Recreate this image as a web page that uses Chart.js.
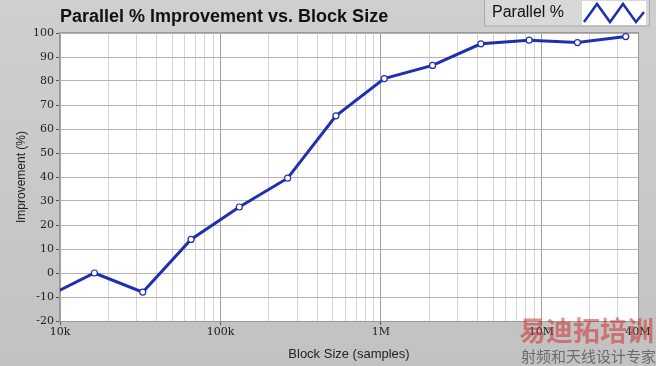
<!DOCTYPE html>
<html>
<head>
<meta charset="utf-8">
<script src="https://cdn.jsdelivr.net/npm/chart.js@4"></script>
<style>
  html, body { margin: 0; padding: 0; background: #c4c4c4; }
  canvas { display: block; }
</style>
</head>
<body>
<canvas id="perfChart" width="656" height="366"></canvas>
<script>
// block sizes are powers of two, 8k .. 32M samples
var blockSizes = [8192, 16384, 32768, 65536, 131072, 262144, 524288, 1048576, 2097152, 4194304, 8388608, 16777216, 33554432];
var improvement = [-10, 0, -8, 14, 27.5, 39.5, 65.5, 81, 86.5, 95.5, 97, 96, 98.5];
var seriesName = 'Parallel %';

var xTickValues = [1e4, 2e4, 3e4, 4e4, 5e4, 6e4, 7e4, 8e4, 9e4,
                   1e5, 2e5, 3e5, 4e5, 5e5, 6e5, 7e5, 8e5, 9e5,
                   1e6, 2e6, 3e6, 4e6, 5e6, 6e6, 7e6, 8e6, 9e6,
                   1e7, 2e7, 3e7, 4e7];
var xTickLabels = { 1e4: '10k', 1e5: '100k', 1e6: '1M', 1e7: '10M', 4e7: '40M' };

var chartTitle = 'Parallel % Improvement vs. Block Size';

function isMajor(v) {
    return xTickLabels[v] !== undefined;
}

// draws the panel background, title, legend box and watermark
var decorPlugin = {
    id: 'decor',
    beforeDraw: function(chart) {
        var ctx = chart.ctx;
        var a = chart.chartArea;
        ctx.save();
        var g = ctx.createLinearGradient(0, 0, 0, chart.height);
        g.addColorStop(0, '#cfcfcf');
        g.addColorStop(1, '#c2c2c2');
        ctx.fillStyle = g;
        ctx.fillRect(0, 0, chart.width, chart.height);
        ctx.fillStyle = '#ffffff';
        ctx.fillRect(a.left, a.top, a.right - a.left, a.bottom - a.top);
        ctx.restore();
    },
    afterDraw: function(chart) {
        var ctx = chart.ctx;
        var a = chart.chartArea;
        ctx.save();
        // plot frame
        ctx.strokeStyle = '#9a9a9a';
        ctx.lineWidth = 1;
        ctx.strokeRect(a.left - 0.5, a.top - 0.5, a.right - a.left + 1, a.bottom - a.top + 1);

        // title
        ctx.fillStyle = '#111111';
        ctx.font = 'bold 18px "Liberation Sans", Arial, sans-serif';
        ctx.textBaseline = 'middle';
        ctx.fillText(chartTitle, 60, 17);

        // legend box
        ctx.fillStyle = '#d8d8d8';
        ctx.fillRect(484, 0, 166, 26);
        ctx.strokeStyle = '#a8a8a8';
        ctx.strokeRect(484.5, -1, 165, 27);
        ctx.fillStyle = '#111111';
        ctx.font = '16px "Liberation Sans", Arial, sans-serif';
        ctx.fillText(chart.data.datasets[0].label, 492, 13);
        ctx.fillStyle = '#ffffff';
        ctx.fillRect(582, 1, 64, 24);
        ctx.strokeStyle = '#1f2fb0';
        ctx.lineWidth = 2.5;
        ctx.beginPath();
        ctx.moveTo(584, 22);
        ctx.lineTo(597, 4);
        ctx.lineTo(610, 22);
        ctx.lineTo(623, 4);
        ctx.lineTo(636, 22);
        ctx.lineTo(644, 12);
        ctx.stroke();

        // watermark
        ctx.globalAlpha = 0.55;
        ctx.fillStyle = '#d23030';
        ctx.font = 'bold 27px "Noto Sans CJK SC", sans-serif';
        ctx.textAlign = 'right';
        ctx.fillText('易迪拓培训', 654, 331);
        ctx.globalAlpha = 0.8;
        ctx.fillStyle = '#555555';
        ctx.font = '15px "Noto Sans CJK SC", sans-serif';
        ctx.fillText('射频和天线设计专家', 656, 356);
        ctx.restore();
    }
};

var ctx = document.getElementById('perfChart').getContext('2d');
new Chart(ctx, {
    type: 'line',
    data: {
        labels: blockSizes,
        datasets: [{
            label: seriesName,
            data: blockSizes.map(function(b, i) { return { x: b, y: improvement[i] }; }),
            borderColor: '#1f2fb0',
            borderWidth: 3,
            pointRadius: 3,
            pointBorderWidth: 1.2,
            pointBackgroundColor: '#ffffff',
            pointBorderColor: '#1f2fb0',
            tension: 0,
            clip: 0
        }]
    },
    options: {
        responsive: false,
        animation: false,
        layout: { padding: { top: 33, right: 18, left: 0, bottom: 0 } },
        plugins: {
            legend: { display: false },
            title: { display: false },
            tooltip: { enabled: false }
        },
        scales: {
            x: {
                type: 'logarithmic',
                min: 1e4,
                max: 4e7,
                afterBuildTicks: function(scale) {
                    scale.ticks = xTickValues.map(function(v) { return { value: v, major: isMajor(v) }; });
                },
                afterFit: function(scale) { scale.height = 45; },
                ticks: {
                    autoSkip: false,
                    maxRotation: 0,
                    color: '#222222',
                    font: { family: '"DejaVu Serif", serif', size: 11 },
                    padding: 1,
                    callback: function(v) { return xTickLabels[v] || ''; }
                },
                grid: {
                    color: function(c) { return isMajor(c.tick.value) ? '#a0a0a0' : '#d4d4d4'; },
                    tickColor: function(c) { return isMajor(c.tick.value) ? '#555555' : 'rgba(0,0,0,0)'; },
                    tickLength: 4,
                    lineWidth: 1
                },
                border: { display: false },
                title: {
                    display: true,
                    text: 'Block Size (samples)',
                    color: '#222222',
                    font: { family: '"Liberation Sans", Arial, sans-serif', size: 13 },
                    padding: { top: 0, bottom: 4 }
                }
            },
            y: {
                min: -20,
                max: 100,
                afterFit: function(scale) { scale.width = 60; },
                ticks: {
                    stepSize: 10,
                    color: '#222222',
                    font: { family: '"DejaVu Serif", serif', size: 11 },
                    padding: 2
                },
                grid: {
                    color: '#b4b4b4',
                    tickColor: '#555555',
                    tickLength: 4
                },
                border: { display: false },
                title: {
                    display: true,
                    text: 'Improvement (%)',
                    color: '#222222',
                    font: { family: '"Liberation Sans", Arial, sans-serif', size: 12 },
                    padding: { top: 14, bottom: 0 }
                }
            }
        }
    },
    plugins: [decorPlugin]
});
</script>
</body>
</html>
